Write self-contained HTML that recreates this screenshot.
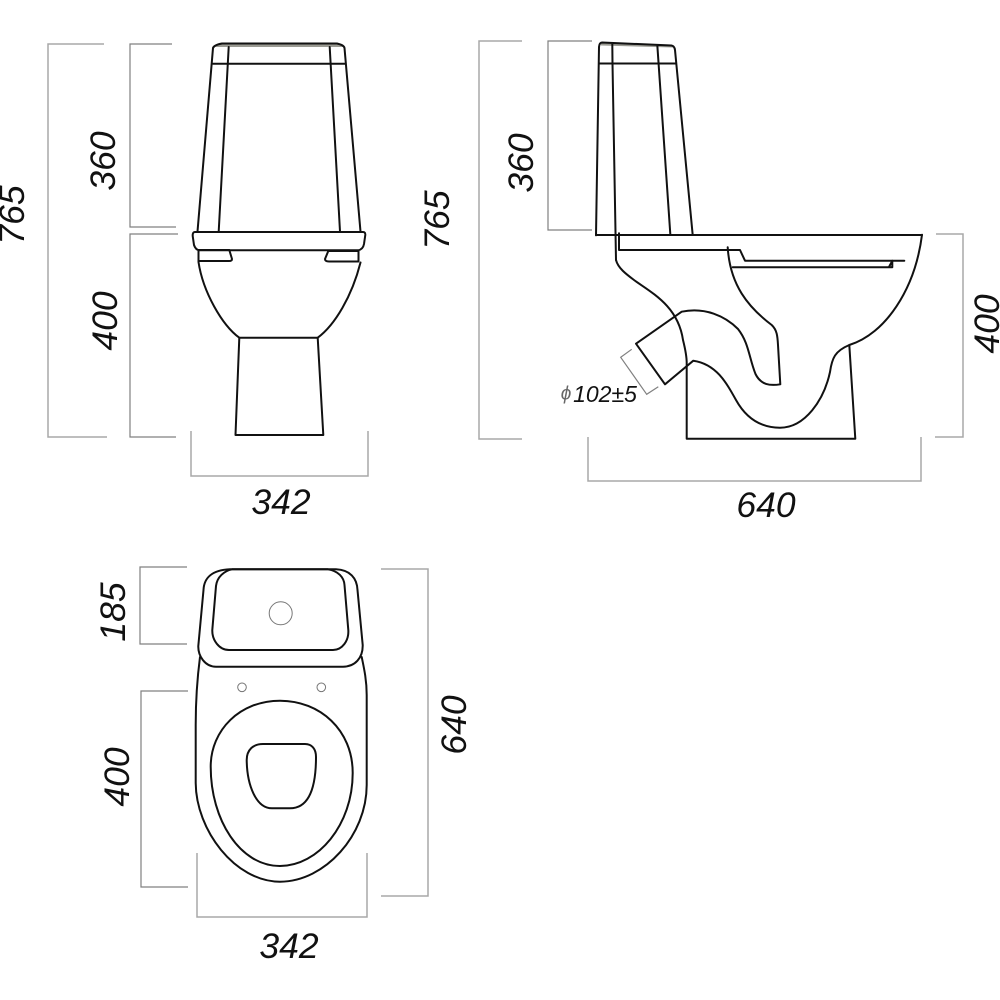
<!DOCTYPE html>
<html><head><meta charset="utf-8"><style>
html,body{margin:0;padding:0;background:#fff}
svg{display:block}
.d{fill:none;stroke:#808080;stroke-width:1.2}
.l{fill:none;stroke:#a8a8a8;stroke-width:1.5}
.o{fill:none;stroke:#111;stroke-width:2;stroke-linejoin:round;stroke-linecap:round}
text{font-family:"Liberation Sans",sans-serif;font-style:italic;font-size:35.5px;fill:#111;text-anchor:middle;dominant-baseline:central}
</style></head><body>
<svg width="1000" height="1000" viewBox="0 0 1000 1000" xmlns="http://www.w3.org/2000/svg">
<!-- front dims -->
<path class="l" d="M104 44H48V437H107"/>
<path class="d" d="M172 44H130V227H176M178 234H130V437H176"/>
<path class="l" d="M191 431V476H368V431"/>
<text transform="translate(103 161) rotate(-90)">360</text>
<text transform="translate(105 321) rotate(-90)">400</text>
<text transform="translate(12 215) rotate(-90)">765</text>
<text x="281" y="502">342</text>
<!-- front -->
<path d="M214 47Q216 44 222 43H337Q343 44 344.500 47Z" fill="#9a9a92"/>
<path class="o" d="M213 48Q214 45 222 43.500H337Q344 45 344.500 48L360.500 231.500M213 48L197.500 231.500M228.700 47L218.700 231.500M329.700 47L340 231.500M213 63.700H345"/>
<path class="o" d="M195 232H363Q365.500 232 365.300 235L364 244Q363 249.500 358 250.300H199Q195.500 249.500 194 245L192.700 236Q192.500 232 195 232Z"/>
<path class="o" d="M198.500 250H229.300L232 259Q232 261 229 261H199"/>
<path class="o" d="M358.500 251H328.300L325 259Q325 261.500 329 261.500H358.500M358.500 251V261.500"/>
<path class="o" d="M198.500 250V262C203 292 222 325 239.300 337.700H317.700C335 325 352 296 360.500 262.500"/>
<path class="o" d="M239.300 337.700L235.500 435H323.300L317.700 337.700"/>
<!-- side dims -->
<path class="l" d="M522 41H479V439H522"/>
<path class="d" d="M592 41H548V230H592"/>
<path class="l" d="M936 234H963V437H935M588 437V481H921V437"/>
<path class="d" d="M631.700 349.300L620.700 357.300L646.700 394.300L658.300 386.700" stroke-width="1"/>
<text transform="translate(521 163) rotate(-90)">360</text>
<text transform="translate(437 220) rotate(-90)">765</text>
<text transform="translate(987 324) rotate(-90)">400</text>
<text x="766" y="505">640</text>
<text x="566" y="394" style="font-size:19px;fill:#666">&#981;</text>
<text x="605" y="394" style="font-size:23px">102&#177;5</text>
<!-- side -->
<path d="M601 42L672 45.500L673 47.500L601 45.500Z" fill="#9a9a92"/>
<path class="o" d="M596 235.300L599 47Q599.500 42.500 602 42.500L671.500 45.500Q674.500 46 675 50L692.700 235M599 63.500H676M612.300 43.300L612.500 63.500L616 260M657.300 45L670.300 234"/>
<path class="o" d="M596 235H922"/>
<path class="o" d="M619 233.300V250H740L745 260.700H904.300"/>
<path class="o" d="M732.700 267.300H892.300V260.700L889 267"/>
<path class="o" d="M616 260C618 268 626 274 634 280C652 293 678 306 683 340C686 352 686.700 360 686.700 363V438.700H855.300L849.300 345"/>
<path class="o" d="M727.700 247.300C730 285 748 307 771.700 325C777 330 777.500 336 778 345L780.300 384.300C770 386 761 385 755.500 374C749 358 749 343 738 329C725 316 705 307 681.700 311.700L636 343.700L665 384.300L693.300 360.700C716 364 726 382 736 400C746 418 760 427.700 780 427.700C805 427.700 824 400 830 372C832 358 835 351 849.300 345C885 334 915 290 922 234.700"/>
<!-- top dims -->
<path class="d" d="M187 567H140V644H187M188 691H141V887H188"/>
<path class="l" d="M381 569H428V896H381M197 853V917H367V853"/>
<text transform="translate(113 612) rotate(-90)">185</text>
<text transform="translate(117 777) rotate(-90)">400</text>
<text transform="translate(454 725) rotate(-90)">640</text>
<text x="289" y="946">342</text>
<!-- top -->
<path class="o" d="M230 569.300H336C350 570 357 578 357.500 590L362.700 645C363 658 355 666.700 343 666.700H216C205 666.700 198 656 198.300 646L203.500 590C204 578 212 570 230 569.300Z"/>
<path class="o" d="M232 569.300H328C338 571 344 577 344.500 585L348.300 630C349 641 342 650 333 650H229C219 650 212 640 212.300 630L216 586C217 577 224 571 232 569.300Z"/>
<circle cx="280.700" cy="613.300" r="11.500" fill="none" stroke="#777" stroke-width="1"/>
<circle cx="242" cy="687.300" r="4.300" fill="none" stroke="#777" stroke-width="1"/>
<circle cx="321.300" cy="687.300" r="4.300" fill="none" stroke="#777" stroke-width="1"/>
<path class="o" d="M200 657C197 680 195.700 700 195.700 725V783C196 830 235 881.700 280 881.700C325 881.700 366.700 835 366.700 785V695C366.700 680 364 668 361.700 657"/>
<path class="o" d="M280 700.700C320 700.700 352.700 730 352.700 773C352.700 825 318 866 280 866C240 866 210.700 820 210.700 766.700C210.700 730 240 700.700 280 700.700Z"/>
<path class="o" d="M263 744H305C312 744 316 749 316 757C316 790 308 808.300 290 808.300H272C256 808.300 247 785 246.700 760C246.700 750 253 744 263 744Z"/>
</svg>
</body></html>
